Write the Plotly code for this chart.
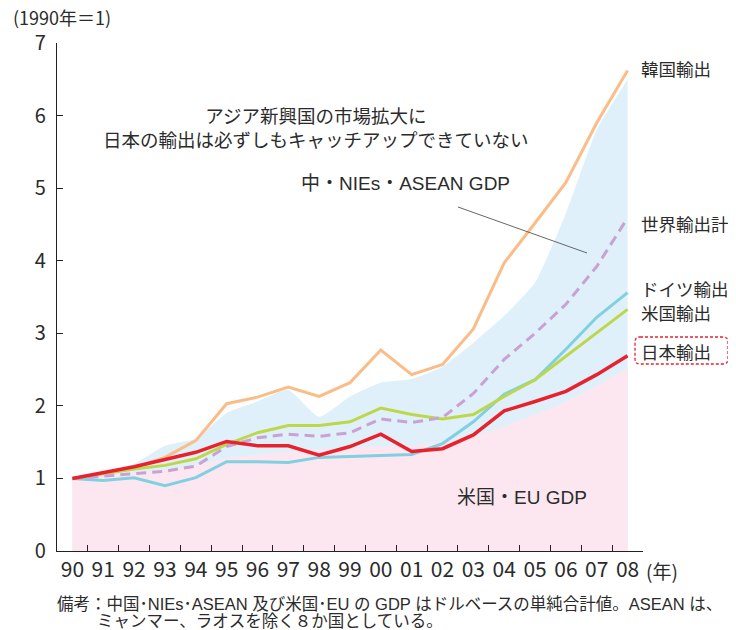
import plotly.graph_objects as go

# 年（1990=1）
years = ["90", "91", "92", "93", "94", "95", "96", "97", "98", "99",
         "00", "01", "02", "03", "04", "05", "06", "07", "08"]

# 中・NIEs・ASEAN GDP（水色の面）
asia_gdp = [1.00, 1.08, 1.20, 1.45, 1.55, 1.90, 2.06, 2.22, 1.85, 2.13,
            2.32, 2.37, 2.54, 2.87, 3.24, 3.70, 4.65, 5.80, 6.50]
# 米国・EU GDP（ピンクの面）
useu_gdp = [1.00, 1.04, 1.08, 1.12, 1.18, 1.28, 1.33, 1.37, 1.40, 1.42,
            1.44, 1.45, 1.50, 1.58, 1.72, 1.88, 2.06, 2.28, 2.52]

korea = [1.00, 1.07, 1.15, 1.29, 1.52, 2.03, 2.12, 2.26, 2.13, 2.32,
         2.77, 2.43, 2.57, 3.06, 3.97, 4.52, 5.08, 5.90, 6.62]
world = [1.00, 1.03, 1.07, 1.10, 1.17, 1.44, 1.56, 1.61, 1.58, 1.63,
         1.82, 1.77, 1.84, 2.17, 2.64, 3.00, 3.40, 3.92, 4.59]
germany = [1.00, 0.97, 1.01, 0.90, 1.01, 1.23, 1.23, 1.22, 1.29, 1.30,
           1.31, 1.33, 1.48, 1.78, 2.16, 2.36, 2.78, 3.22, 3.56]
usa = [1.00, 1.07, 1.13, 1.18, 1.27, 1.47, 1.63, 1.73, 1.73, 1.78,
       1.97, 1.88, 1.82, 1.88, 2.13, 2.36, 2.68, 3.00, 3.33]
japan = [1.00, 1.08, 1.16, 1.26, 1.36, 1.51, 1.45, 1.45, 1.32, 1.44,
         1.61, 1.37, 1.41, 1.60, 1.93, 2.06, 2.20, 2.43, 2.69]

JP = "Noto Sans CJK JP"
MIX = "Liberation Sans, Noto Sans CJK JP"
TXT = "#2b2b2b"

# ページ上の描画領域（ピクセル）。body の余白 8px を差し引く
OFF = 8
W, H = 736 - OFF, 630 - OFF
L, T = 57 - OFF, 43 - OFF
R, B = W - (643 - OFF), H - (551 - OFF)
PW, PH = W - L - R, H - T - B


def px_x(x):
    return (x - OFF - L) / PW


def px_y(y):
    return (H - B - (y - OFF)) / PH


fig = go.Figure()

fig.add_trace(go.Scatter(
    x=years, y=asia_gdp, mode="lines", fill="tozeroy",
    fillcolor="#dff0fa", line=dict(width=0, shape="spline", smoothing=0.5),
    hoverinfo="skip"))
fig.add_trace(go.Scatter(
    x=years, y=useu_gdp, mode="lines", fill="tozeroy",
    fillcolor="#fce7f0", line=dict(width=0, shape="spline", smoothing=0.5),
    hoverinfo="skip"))

series = [
    (korea, "#fabd88", "solid", 3),
    (germany, "#80d0e2", "solid", 3),
    (usa, "#bcd84a", "solid", 3),
    (world, "#c9a2d3", "10px,6px", 3),
    (japan, "#e8222c", "solid", 3.5),
]
for vals, col, dash, w in series:
    fig.add_trace(go.Scatter(x=years, y=vals, mode="lines",
                             line=dict(color=col, width=w, dash=dash)))

annots = []


def label(text, x, y, size, anchor="left", align="left", family=JP):
    annots.append(dict(text=text, x=px_x(x), y=px_y(y), xref="paper",
                       yref="paper", xanchor=anchor, yanchor="middle",
                       align=align, showarrow=False, borderpad=0,
                       font=dict(family=family, size=size, color=TXT)))


label("(1990年＝1)", 12, 17, 18)
label("アジア新興国の市場拡大に<br>日本の輸出は必ずしもキャッチアップできていない",
      316, 127, 18.5, anchor="center", align="center")
label("中・NIEs・ASEAN GDP", 405, 184, 19, anchor="center", family=MIX)
label("米国・EU GDP", 522, 497, 19, anchor="center", family=MIX)
label("韓国輸出", 640, 68, 17.5)
label("世界輸出計", 640, 223, 17.5)
label("ドイツ輸出", 640, 288, 17.5)
label("米国輸出", 640, 312, 17.5)
label("日本輸出", 640, 351, 17.5)
label("(年)", 645, 570, 19)
label("備考：中国･NIEs･ASEAN 及び米国･EU の GDP はドルベースの単純合計値。ASEAN は、",
      56, 604, 16.5, family=MIX)
label("ミャンマー、ラオスを除く８か国としている。", 96, 621, 16.5, family=MIX)

# 日本輸出の点線枠（角丸）
x0, x1, y0, y1, r = 635, 728, 337, 364, 5
pts = [
    ("M", x0 + r, y0), ("L", x1 - r, y0), ("Q", x1, y0, x1, y0 + r),
    ("L", x1, y1 - r), ("Q", x1, y1, x1 - r, y1), ("L", x0 + r, y1),
    ("Q", x0, y1, x0, y1 - r), ("L", x0, y0 + r), ("Q", x0, y0, x0 + r, y0),
]
path = ""
for p in pts:
    cmd, coords = p[0], p[1:]
    s = []
    for i in range(0, len(coords), 2):
        s.append(f"{px_x(coords[i]):.5f},{px_y(coords[i + 1]):.5f}")
    path += cmd + " ".join(s) + " "
path += "Z"

shapes = [
    dict(type="path", path=path, xref="paper", yref="paper",
         line=dict(color="#e8222c", width=1.3, dash="3px,2px")),
    # 中・NIEs・ASEAN GDP の引き出し線
    dict(type="line", xref="paper", yref="paper",
         x0=px_x(458), y0=px_y(207), x1=px_x(587), y1=px_y(253),
         line=dict(color="#666666", width=1)),
]

fig.update_layout(
    width=W, height=H,
    margin=dict(l=L, r=R, t=T, b=B, autoexpand=False),
    paper_bgcolor="white", plot_bgcolor="white",
    showlegend=False,
    font=dict(family=JP, color=TXT),
    annotations=annots,
    shapes=shapes,
    xaxis=dict(
        type="category", range=[-0.5, 18.5], tickson="boundaries",
        ticks="inside", ticklen=6, tickcolor="#222", tickwidth=1,
        showline=True, linecolor="#222", linewidth=1.2, showgrid=False,
        tickfont=dict(family=JP, size=21, color=TXT), tickangle=0,
        zeroline=False, automargin=False,
    ),
    yaxis=dict(
        range=[0, 7], dtick=1, ticks="inside", ticklen=6,
        tickcolor="#222", tickwidth=1, showline=True, linecolor="#222",
        linewidth=1.2, showgrid=False, zeroline=False,
        tickfont=dict(family=JP, size=20, color=TXT),
        ticklabelstandoff=6, automargin=False,
    ),
)

fig.write_html("out.html")
